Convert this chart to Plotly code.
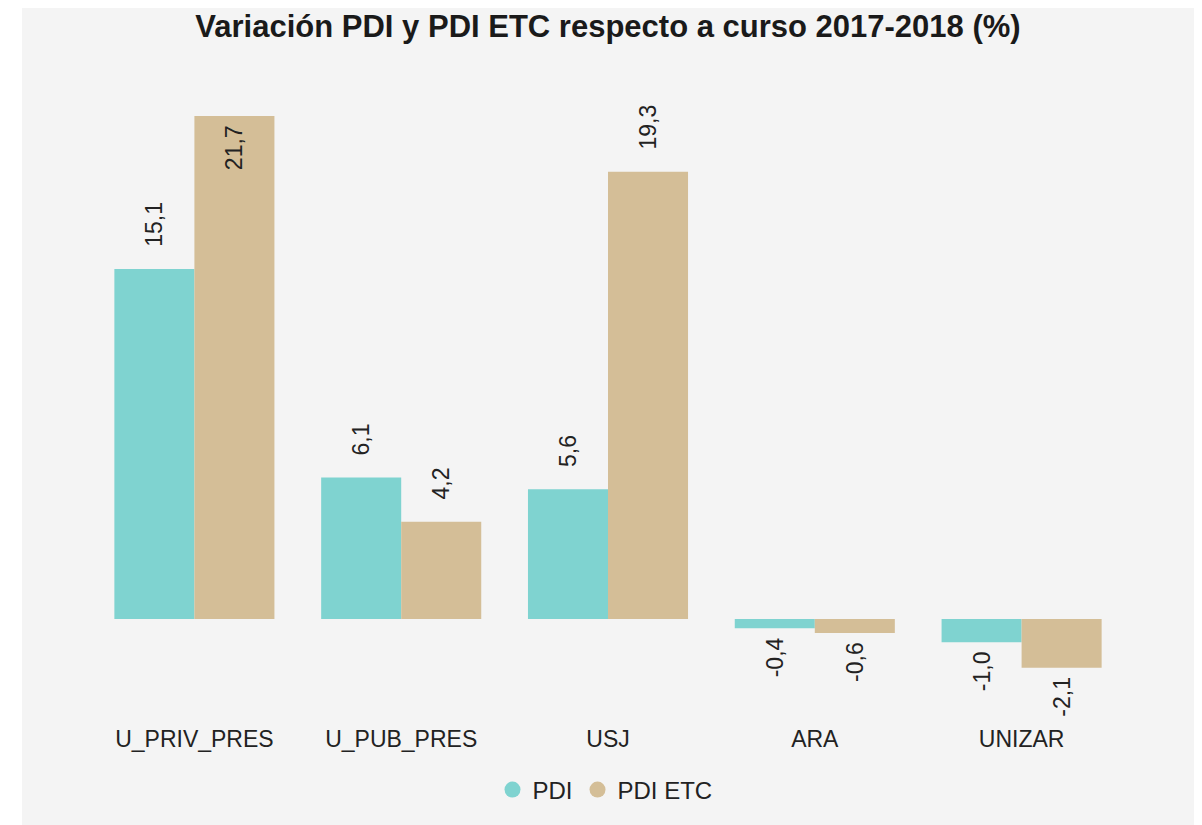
import plotly.graph_objects as go

categories = ["U_PRIV_PRES", "U_PUB_PRES", "USJ", "ARA", "UNIZAR"]
pdi = [15.1, 6.1, 5.6, -0.4, -1.0]
pdi_etc = [21.7, 4.2, 19.3, -0.6, -2.1]
series_names = ["PDI", "PDI ETC"]
colors = ["#7FD3D0", "#D4BE97"]

NB = "\u00a0"


def fmt(v):
    return f"{v:.1f}".replace(".", ",")


def labels(vals, inside_idx=()):
    out = []
    for i, v in enumerate(vals):
        s = fmt(v)
        if i in inside_idx:
            s = s + NB
        elif v >= 0:
            s = NB * 3 + s
        else:
            s = s + NB
        out.append(s)
    return out


def positions(vals, inside_idx=()):
    return ["inside" if i in inside_idx else "outside" for i in range(len(vals))]


FONT = "Liberation Sans, Arial, sans-serif"
LBL = 23

fig = go.Figure()
for name, vals, col, ins in [
    (series_names[0], pdi, colors[0], ()),
    (series_names[1], pdi_etc, colors[1], (0,)),
]:
    fig.add_trace(go.Bar(
        x=categories, y=vals, name=name, marker=dict(color=col, line=dict(width=0)),
        text=labels(vals, ins), textposition=positions(vals, ins),
        textangle=-90, insidetextanchor="end", cliponaxis=False,
        textfont=dict(family=FONT, size=LBL, color="#222222"),
        insidetextfont=dict(family=FONT, size=LBL, color="#222222"),
        outsidetextfont=dict(family=FONT, size=LBL, color="#222222"),
        showlegend=False, hoverinfo="x+y",
    ))
    fig.add_trace(go.Scatter(
        x=[None], y=[None], mode="markers", name=name,
        marker=dict(symbol="circle", size=20, color=col), showlegend=True,
    ))

# page body has an 8px margin; figure sized so it fills the 1202x825 window
W, H = 1194, 817
L, R, T, B = 83, 77, 52, 125
ZERO = 611
PX_PER_UNIT = 23.18
pw, ph = W - L - R, H - T - B


def px_x(p):
    return (p - L) / pw


def px_y(p):
    return (H - B - p) / ph


fig.update_layout(
    width=W, height=H,
    margin=dict(l=L, r=R, t=T, b=B, pad=0),
    paper_bgcolor="white", plot_bgcolor="rgba(0,0,0,0)",
    font=dict(family=FONT, color="#222222"),
    title=dict(text="<b>Variación PDI y PDI ETC respecto a curso 2017-2018 (%)</b>",
               x=0.5, xref="paper", xanchor="center", y=1 - 18 / H, yanchor="middle",
               font=dict(family=FONT, size=31, color="#1a1a1a")),
    barmode="group", bargap=0.226, bargroupgap=0,
    showlegend=True,
    legend=dict(orientation="h", x=px_x(597), xanchor="center", y=px_y(782), yanchor="middle",
                font=dict(family=FONT, size=24, color="#222222"), itemsizing="trace",
                bgcolor="rgba(0,0,0,0)", itemwidth=30, tracegroupgap=0),
    shapes=[dict(type="rect", xref="paper", yref="paper", layer="below",
                 x0=px_x(14), x1=px_x(W + 2), y0=px_y(H + 2), y1=px_y(0),
                 fillcolor="#F4F4F4", line=dict(width=0))],
)
fig.update_xaxes(showgrid=False, zeroline=False, showline=False,
                 ticks="outside", ticklen=18, tickcolor="rgba(0,0,0,0)",
                 tickfont=dict(family=FONT, size=23, color="#222222"))
fig.update_yaxes(range=[-(H - B - ZERO) / PX_PER_UNIT, (ZERO - T) / PX_PER_UNIT], visible=False,
                 showgrid=False, zeroline=False)

fig.write_html("out.html")
